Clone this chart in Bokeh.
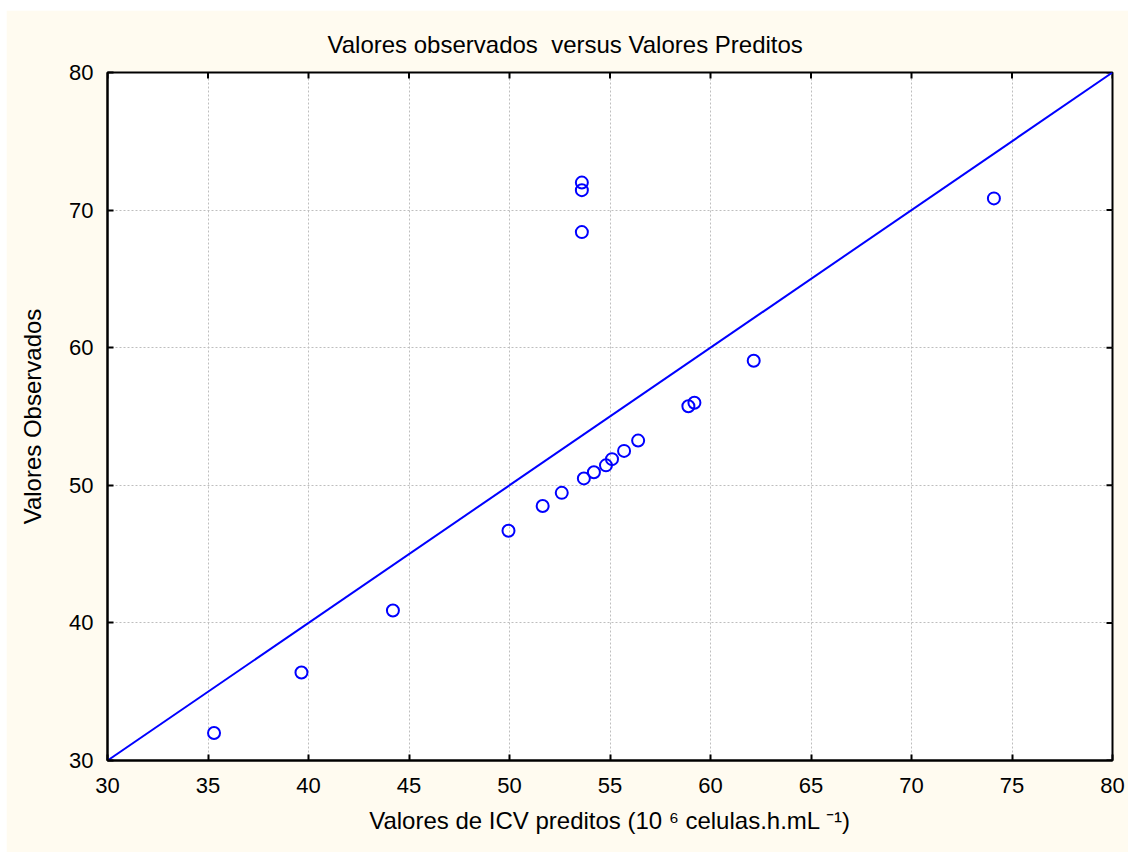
import math
from bokeh.plotting import figure
from bokeh.models import Range1d, FixedTicker
from bokeh.embed import file_html
from bokeh.resources import INLINE

# Data
pred = [35.3, 39.65, 44.2, 49.95, 51.65, 52.6, 53.7, 54.2, 54.8, 55.1, 55.7, 56.4,
        58.9, 59.2, 62.15, 53.6, 53.6, 53.6, 74.1]
obs = [32.0, 36.4, 40.9, 46.7, 48.5, 49.45, 50.5, 50.95, 51.45, 51.9, 52.5, 53.25,
       55.75, 56.0, 59.05, 72.0, 71.45, 68.4, 70.85]
x_ticks = [30, 35, 40, 45, 50, 55, 60, 65, 70, 75, 80]
y_ticks = [30, 40, 50, 60, 70, 80]
ref_x = [30, 80]
ref_y = [30, 80]
x_min, x_max = 30, 80
y_min, y_max = 30, 80

FONT = "Liberation Sans"
BG = "#FFFBF0"
BLUE = "#0000FF"

p = figure(width=1122, height=842,
           x_range=Range1d(x_min, x_max), y_range=Range1d(y_min, y_max),
           output_backend="svg", toolbar_location=None,
           title="Valores observados\u00a0 versus Valores Preditos",
           min_border_left=101, min_border_right=16,
           min_border_top=62, min_border_bottom=92,
           background_fill_color="white", border_fill_color=BG)
p.margin = (10, 0, 0, 6)

p.title.text_font = FONT
p.title.text_font_size = "24px"
p.title.text_font_style = "normal"
p.title.text_color = "black"
p.title.align = "left"
p.title.offset = 220
p.title.standoff = 29

p.outline_line_color = "black"
p.outline_line_width = 2


def style_axis(ax, ticks):
    ax.ticker = FixedTicker(ticks=ticks)
    ax.axis_line_color = "black"
    ax.axis_line_width = 2
    ax.major_tick_in = 6
    ax.major_tick_out = 0
    ax.major_tick_line_width = 2
    ax.major_tick_line_color = "black"
    ax.minor_tick_in = 0
    ax.minor_tick_out = 0
    ax.minor_tick_line_color = None
    ax.major_label_text_font = FONT
    ax.major_label_text_color = "black"
    ax.major_label_text_font_size = "22px"
    ax.axis_label_text_font = FONT
    ax.axis_label_text_font_size = "24px"
    ax.axis_label_text_font_style = "normal"
    ax.axis_label_text_color = "black"


style_axis(p.xaxis[0], x_ticks)
style_axis(p.yaxis[0], y_ticks)
p.xaxis[0].major_label_standoff = 17
p.yaxis[0].major_label_standoff = 14
p.xaxis[0].axis_label = "Valores de ICV preditos (10 \u2076 celulas.h.mL \u207b\u00b9)"
p.yaxis[0].axis_label = "Valores Observados"
p.xaxis[0].axis_label_standoff = 11
p.yaxis[0].axis_label_standoff = 20

for g, t in ((p.xgrid[0], x_ticks), (p.ygrid[0], y_ticks)):
    g.ticker = FixedTicker(ticks=t)
    g.grid_line_color = "#BEBEBE"
    g.grid_line_dash = "2 2"
    g.grid_line_width = 1

# inward tick marks on the top and right frame edges (clipped to the frame)
p.scatter(x_ticks, [y_max] * len(x_ticks), marker="dash", angle=math.pi / 2,
          size=12, line_color="black", line_width=2)
p.scatter([x_max] * len(y_ticks), y_ticks, marker="dash",
          size=12, line_color="black", line_width=2)

p.line(ref_x, ref_y, line_color=BLUE, line_width=2)
p.scatter(pred, obs, marker="circle", size=12, fill_color=None,
          line_color=BLUE, line_width=2)

open("out.html", "w").write(file_html(p, INLINE))
